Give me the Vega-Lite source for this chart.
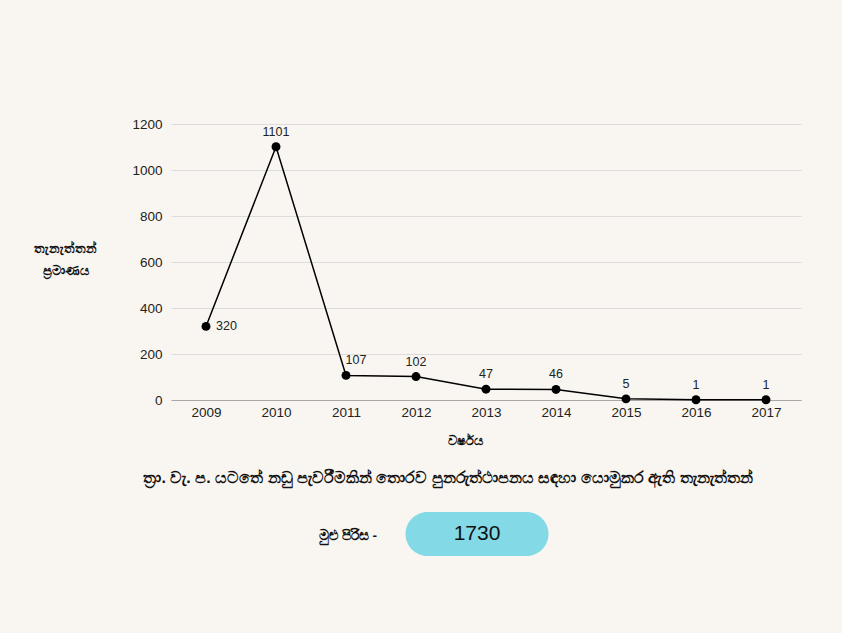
{
  "$schema": "https://vega.github.io/schema/vega-lite/v6.json",
  "background": "#f9f6f1",
  "padding": {"left": 33, "top": 117, "right": 42, "bottom": 77},
  "autosize": {"type": "pad"},
  "config": {"view": {"stroke": null}, "font": "Liberation Sans"},
  "bounds": "flush",
  "spacing": 112,
  "vconcat": [
    {
      "width": 630,
      "height": 276,
      "data": {"values": [
        {"year": "2009", "count": 320},
        {"year": "2010", "count": 1101},
        {"year": "2011", "count": 107},
        {"year": "2012", "count": 102},
        {"year": "2013", "count": 47},
        {"year": "2014", "count": 46},
        {"year": "2015", "count": 5},
        {"year": "2016", "count": 1},
        {"year": "2017", "count": 1}
      ]},
      "encoding": {
        "x": {"field": "year", "type": "ordinal", "scale": {"type": "point", "padding": 0.5},
          "axis": {"title": "වර්ෂය", "labelAngle": 0, "ticks": false, "domain": true, "domainColor": "#a8a8a8", "domainWidth": 1, "grid": false,
            "labelPadding": 5, "labelFontSize": 13.5, "labelColor": "#222", "titleFontSize": 13, "titleFontWeight": "bold", "titleColor": "#111",
            "titleX": 294, "titleY": 40, "titleBaseline": "middle", "titleAnchor": null}},
        "y": {"field": "count", "type": "quantitative", "scale": {"domain": [0, 1200]},
          "axis": {"title": ["තැනැත්තන්", "ප්‍රමාණය"], "values": [0, 200, 400, 600, 800, 1000, 1200], "format": "d", "domain": false, "ticks": false,
            "gridColor": "#dcdcdc", "labelPadding": 9, "labelFontSize": 13.5, "labelColor": "#222",
            "titleAngle": 0, "titleX": -106, "titleY": 124, "titleAlign": "center", "titleBaseline": "middle", "titleFontSize": 13, "titleFontWeight": "bold", "titleColor": "#111", "titleLineHeight": 22}}
      },
      "layer": [
        {"mark": {"type": "line", "color": "#000", "strokeWidth": 1.5}},
        {"mark": {"type": "point", "filled": true, "color": "#000", "size": 80, "opacity": 1}},
        {"transform": [{"filter": "datum.year != '2009' && datum.year != '2011'"}],
          "mark": {"type": "text", "dy": -15, "fontSize": 12.5, "color": "#222"},
          "encoding": {"text": {"field": "count"}}},
        {"transform": [{"filter": "datum.year == '2011'"}],
          "mark": {"type": "text", "dy": -15, "dx": 10, "fontSize": 12.5, "color": "#222"},
          "encoding": {"text": {"field": "count"}}},
        {"transform": [{"filter": "datum.year == '2009'"}],
          "mark": {"type": "text", "dx": 10, "align": "left", "fontSize": 12.5, "color": "#222"},
          "encoding": {"text": {"field": "count"}}}
      ]
    },
    {
      "width": 630,
      "height": 44,
      "title": {"text": "ත්‍රා. වැ. ප. යටතේ නඩු පැවරීමකින් තොරව පුනරුත්ථාපනය සඳහා යොමුකර ඇති තැනැත්තන්", "fontSize": 16, "fontWeight": "bold", "color": "#111", "anchor": "middle", "dx": -38, "offset": 26},
      "data": {"values": [
        {"item": "label", "text": "මුළු පිරිස -"},
        {"item": "total", "text": "1730"}
      ]},
      "encoding": {
        "x": {"field": "item", "type": "nominal", "scale": {"type": "point", "padding": 0, "domain": ["label", "total"], "range": [177, 306]}, "axis": null}
      },
      "layer": [
        {"transform": [{"filter": "datum.item == 'total'"}],
          "mark": {"type": "bar", "width": 143, "cornerRadius": 22, "color": "#83d9e6"}},
        {"transform": [{"filter": "datum.item == 'total'"}],
          "mark": {"type": "text", "fontSize": 21, "color": "#111"},
          "encoding": {"text": {"field": "text"}}},
        {"transform": [{"filter": "datum.item == 'label'"}],
          "mark": {"type": "text", "fontSize": 13.5, "fontWeight": "bold", "color": "#111", "dy": 2},
          "encoding": {"text": {"field": "text"}}}
      ]
    }
  ]
}
